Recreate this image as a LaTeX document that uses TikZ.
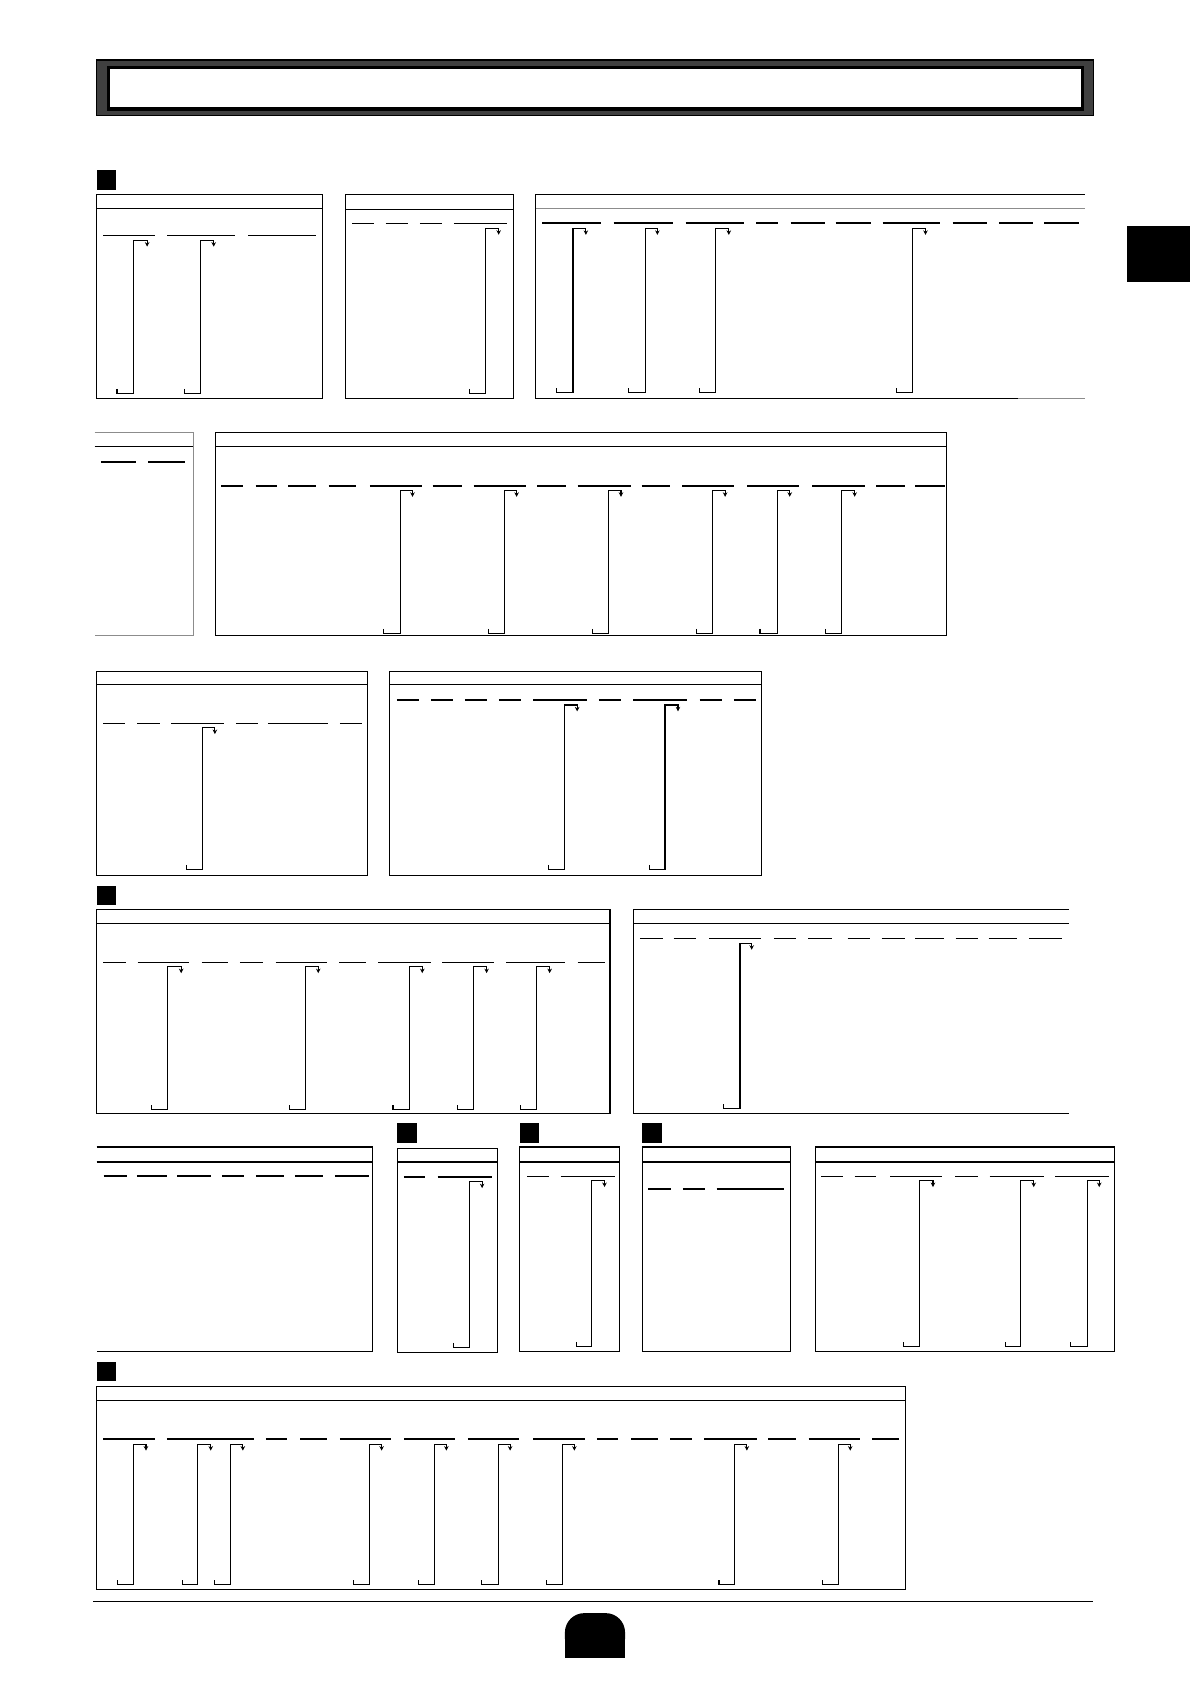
\documentclass[tikz,border=0pt]{standalone}
\usetikzlibrary{arrows.meta}
% blank entry lines and bent leaders
\newcommand\blanks[2]{\foreach \p/\q in {#2} \draw[rule] (\p,#1) -- (\q,#1);}
\newcommand\leads[3]{\foreach \v/\a/\s in {#3}
  \draw[link] (\s,#2-4) -- (\s,#2) -- (\v,#2) -- (\v,#1) -- (\a,#1) -- (\a,#1+6);}
\begin{document}
\begin{tikzpicture}[
    x=0.2mm, y=-0.2mm,
    box/.style={draw, line width=0.6pt},
    faint/.style={draw=black!45, line width=0.6pt},
    rule/.style={line width=0.8pt},
    link/.style={line width=0.6pt, -{Stealth[length=2.4pt,width=2.4pt]}},
    marker/.style={fill=black}
  ]
\useasboundingbox (0,0) rectangle (1108,1568);

% title bar and side tab
\filldraw[fill=black!75, draw=black, line width=0.8pt] (90,56) rectangle (1018,107.5);
\filldraw[fill=white, draw=black, line width=1.6pt] (101,63) rectangle (1008,101.5);
\fill (1049,210) rectangle (1108,263);

% section 1
\fill[marker] (90,158) rectangle (108,176.5);
\draw[box] (90,181) rectangle (300,371);
\draw[box] (90,194) -- (300,194);
\blanks{219.5}{96/144, 155.5/218.8, 231.2/294.2}
\leads{223.7}{366}{124/137/109, 186.5/199/171.6}

\draw[box] (321.5,181) rectangle (478,371);
\draw[box] (321.5,195) -- (478,195);
\blanks{208}{328/348.2, 359.1/380.2, 391/411.5, 422.7/472.1}
\leads{212.6}{366}{452/464.3/437}

\draw[box] (1010,181) -- (499,181) -- (499,371) -- (948,371);
\draw[faint] (948,371) -- (1010,371);
\draw[faint] (499,194.5) -- (1010,194.5);
\blanks{207.5}{504.9/560, 571.4/626.2, 638.3/692.8, 704.3/724.6, 736.2/768, 778/810.7, 821.7/875.5, 887/919, 930/961.7, 972.1/1004.5}
\leads{212.7}{365.5}{533.5/545.5/518.3, 600.7/612.1/585.5, 666.6/678.6/651.7, 850/861.7/835}

\draw[faint] (88,403) -- (180,403) -- (180,592) -- (88,592);
\draw[box] (88,416) -- (180,416);
\blanks{430}{94/127, 138/172.5}

\draw[box] (201,403) rectangle (881,592);
\draw[box] (201,416) -- (881,416);
\blanks{452.6}{206.2/226.6, 238.1/258, 268.5/294.6, 306.1/331.3, 344.3/392.5, 402.9/430.1, 441/489.7, 500.1/527.3, 537.9/587.1, 597.5/623.7, 635.3/683.4, 695.8/743.9, 756.1/805.3, 815.8/843, 852.4/879.6}
\leads{456.6}{589.5}{372.6/384.1/357.4, 469.4/481/454.7, 566.6/578.2/551.5, 663.4/675.2/648.2, 723.6/735.3/707.7, 783.7/795.8/768.6}

\draw[box] (90,625) rectangle (342,815);
\draw[box] (90,637.7) -- (342,637.7);
\blanks{673.7}{96.2/116.6, 127.8/148.6, 159.4/208.8, 219.6/240, 249.5/305.2, 316.4/336.8}
\leads{677.5}{809.4}{188.5/200.1/173.5}

\draw[box] (363,625) rectangle (709,815);
\draw[box] (363,637.7) -- (709,637.7);
\blanks{651.7}{369.6/390.4, 401.2/422, 432.8/453.5, 464.5/485.3, 496.7/546.5, 557.7/578.5, 589.6/639.5, 651.5/672.3, 683.2/704}
\leads{656.4}{809.4}{525.3/537.4/510.4, 619.2/631.3/604.7}

% section 2
\fill[marker] (90,825) rectangle (108,842.5);
\draw[box] (90,847) rectangle (568,1037);
\draw[box] (90,860) -- (568,860);
\blanks{896}{96.1/117.3, 128.1/175.9, 187.7/211.9, 223.4/245.2, 256.7/304.8, 315.7/341.1, 352/401.6, 411.9/460.3, 471.2/526.3, 537.8/563.2}
\leads{900.1}{1033}{156/168.7/140.8, 284.8/296.3/269.7, 381/393.2/365.9, 440.9/453.1/425.8, 499.7/511.8/484.5}

\draw[box] (995,847) -- (590,847) -- (590,1037) -- (995,1037);
\draw[box] (590,860) -- (995,860);
\blanks{874}{595.9/617.7, 627.3/647.9, 660.6/709, 720.5/741.1, 752.6/774.4, 789.3/809.9, 820.8/842.6, 852.3/878.9, 889.8/910.4, 920.6/947.2, 958/988.9}
\leads{878.4}{1032.4}{689/699.9/673.9}

\draw[box] (90,1068) -- (347,1068) -- (347,1258) -- (90,1258);
\draw[box] (90,1082) -- (347,1082);
\blanks{1095}{96.5/117.9, 127.4/155.1, 165/196.6, 206.7/226.9, 238.3/264.7, 274.6/301, 311.8/343.2}

% sections 3 to 5
\fill[marker] (370,1046) rectangle (388,1064);
\draw[box] (370,1069) rectangle (463,1259);
\draw[box] (370,1082) -- (463,1082);
\blanks{1096}{376/396.1, 407.4/457.8}
\leads{1100.3}{1254.4}{437/448.9/421.9}

\fill[marker] (484,1046) rectangle (502,1064);
\draw[box] (484,1068) rectangle (577,1258);
\draw[box] (484,1082) -- (577,1082);
\blanks{1095.4}{491.1/511.3, 522/572.3}
\leads{1099.3}{1253.5}{550.9/562.9/536.4}

\fill[marker] (598,1046) rectangle (616,1064);
\draw[box] (598,1068) rectangle (736,1258);
\draw[box] (598,1082) -- (736,1082);
\blanks{1107.2}{603.8/624.5, 635.8/656, 667.3/730.2}

\draw[box] (759,1068) rectangle (1038,1258);
\draw[box] (759,1082) -- (1038,1082);
\blanks{1095.4}{764.9/785, 795.7/815.8, 829/877.5, 889.5/910.2, 921.5/971.9, 982.6/1033}
\leads{1099.3}{1253.8}{856.1/868.7/841.6, 950.5/962.5/936, 1012.2/1023.5/997.1}

% section 6
\fill[marker] (90,1268) rectangle (108,1286);
\draw[box] (90,1291) rectangle (843,1480);
\draw[box] (90,1304) -- (843,1304);
\blanks{1340}{96/143.9, 155.3/236.6, 247.6/267.5, 279.5/304.4, 316.4/364.3, 376.3/424.1, 435.6/483.5, 496.4/544.3, 555.8/575.7, 587.7/612.6, 624.1/644, 655.5/704.4, 715.4/740.8, 752.8/800.6, 812.1/837.1}
\leads{1344.7}{1475.4}{124.4/135.9/109.4, 183.8/196.2/169.8, 214.7/226.1/199.7, 343.8/355.3/329.4, 404.7/415.6/389.7, 464/475/448.6, 523.9/534.8/508.9, 683.9/695.4/669.5, 780.7/791.7/765.7}

% footer
\draw[line width=0.6pt] (87,1491.5) -- (1018,1491.5);
\fill[rounded corners=3.6mm] (526,1502) rectangle (582,1543.5);
\fill (526,1525) rectangle (582,1543.5);
\end{tikzpicture}
\end{document}
